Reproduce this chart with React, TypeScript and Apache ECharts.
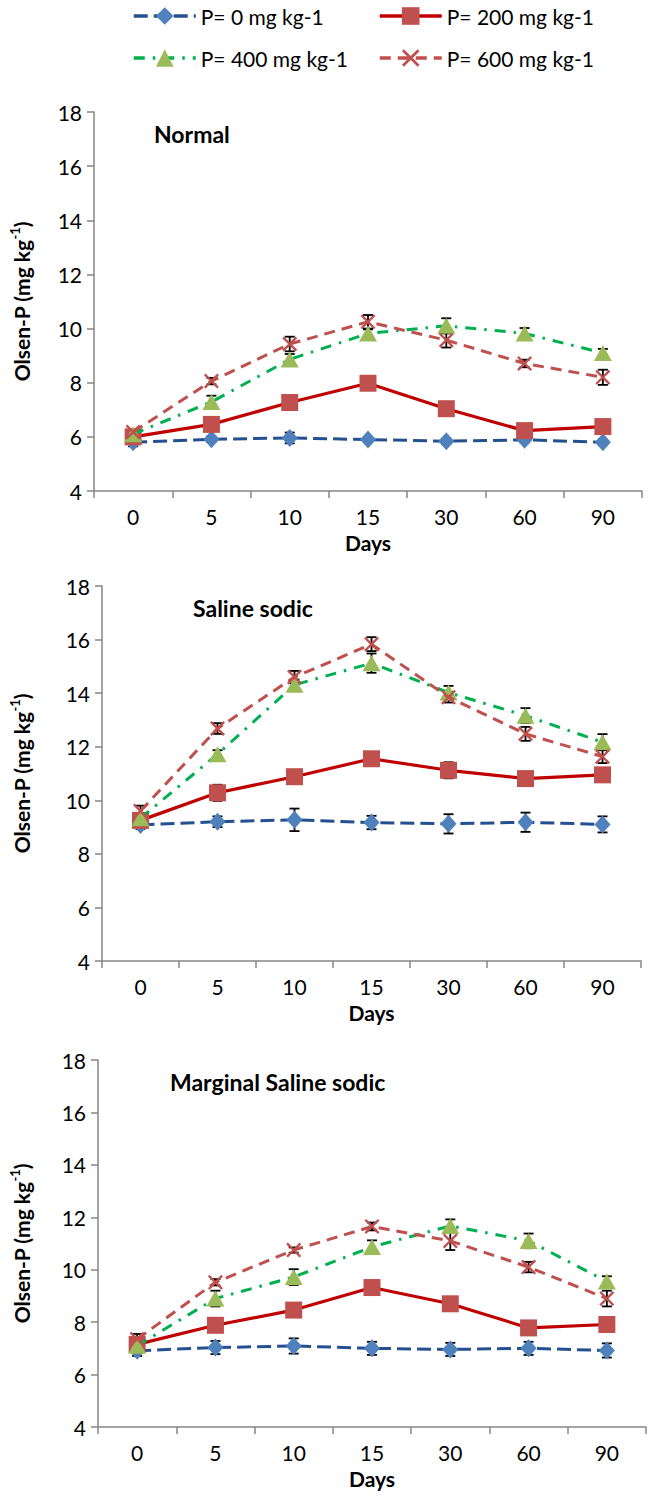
import React, { useEffect, useRef } from 'react';
import * as echarts from 'echarts';

const days = ['0', '5', '10', '15', '30', '60', '90'];
const seriesNames = ['P= 0 mg kg-1', 'P= 200 mg kg-1', 'P= 400 mg kg-1', 'P= 600 mg kg-1'];
const panelTitles = ['Normal', 'Saline sodic', 'Marginal Saline sodic'];

// Normal soil
const normalP0 = [5.8, 5.91, 5.96, 5.9, 5.84, 5.89, 5.8];
const normalP0Err = [0.15, 0.1, 0.2, 0.1, 0.1, 0.1, 0.1];
const normalP200 = [6.0, 6.46, 7.27, 7.98, 7.04, 6.23, 6.38];
const normalP200Err = [0.1, 0.1, 0.1, 0.1, 0.1, 0.1, 0.1];
const normalP400 = [6.1, 7.29, 8.86, 9.82, 10.1, 9.82, 9.1];
const normalP400Err = [0.1, 0.23, 0.2, 0.15, 0.28, 0.2, 0.15];
const normalP600 = [6.18, 8.06, 9.43, 10.25, 9.57, 8.71, 8.2];
const normalP600Err = [0.1, 0.12, 0.27, 0.25, 0.27, 0.14, 0.28];

// Saline sodic soil
const salineP0 = [9.08, 9.2, 9.27, 9.17, 9.12, 9.18, 9.1];
const salineP0Err = [0.15, 0.2, 0.42, 0.25, 0.36, 0.36, 0.3];
const salineP200 = [9.25, 10.28, 10.88, 11.55, 11.12, 10.81, 10.95];
const salineP200Err = [0.18, 0.3, 0.1, 0.1, 0.3, 0.15, 0.15];
const salineP400 = [9.33, 11.72, 14.31, 15.12, 14.02, 13.16, 12.17];
const salineP400Err = [0.2, 0.15, 0.2, 0.36, 0.25, 0.28, 0.3];
const salineP600 = [9.6, 12.68, 14.6, 15.83, 13.85, 12.48, 11.63];
const salineP600Err = [0.2, 0.2, 0.23, 0.26, 0.2, 0.26, 0.24];

// Marginal saline sodic soil
const marginalP0 = [6.91, 7.03, 7.09, 7.0, 6.96, 7.0, 6.92];
const marginalP0Err = [0.2, 0.25, 0.29, 0.25, 0.25, 0.25, 0.27];
const marginalP200 = [7.15, 7.88, 8.46, 9.32, 8.7, 7.78, 7.91];
const marginalP200Err = [0.15, 0.1, 0.1, 0.1, 0.1, 0.1, 0.1];
const marginalP400 = [7.1, 8.9, 9.72, 10.87, 11.67, 11.1, 9.55];
const marginalP400Err = [0.2, 0.3, 0.3, 0.25, 0.25, 0.28, 0.2];
const marginalP600 = [7.35, 9.52, 10.75, 11.65, 11.1, 10.1, 8.9];
const marginalP600Err = [0.2, 0.12, 0.1, 0.15, 0.35, 0.2, 0.3];

const panels = [
  { values: [normalP0, normalP200, normalP400, normalP600], errs: [normalP0Err, normalP200Err, normalP400Err, normalP600Err] },
  { values: [salineP0, salineP200, salineP400, salineP600], errs: [salineP0Err, salineP200Err, salineP400Err, salineP600Err] },
  { values: [marginalP0, marginalP200, marginalP400, marginalP600], errs: [marginalP0Err, marginalP200Err, marginalP400Err, marginalP600Err] },
];

const FONT = 'Lato';
const AXIS_GRAY = '#868686';
const X_PATH = 'path://M0,1.1L1.1,0L5,3.9L8.9,0L10,1.1L6.1,5L10,8.9L8.9,10L5,6.1L1.1,10L0,8.9L3.9,5Z';

const seriesStyles = [
  { line: { color: '#25508F', width: 3, type: [14, 6] }, symbol: 'diamond', size: [16, 18], fill: '#4F81BD' },
  { line: { color: '#C00000', width: 3.2, type: 'solid' }, symbol: 'rect', size: 17, fill: '#C0504D' },
  { line: { color: '#00B050', width: 3, type: [11, 8, 2.5, 8] }, symbol: 'triangle', size: [18, 16], fill: '#9BBB59' },
  { line: { color: '#C0504D', width: 3, type: [11, 7] }, symbol: X_PATH, size: 15, fill: '#C0504D' },
];

const grids = [
  { left: 92, top: 112, width: 550, height: 379 },
  { left: 101, top: 586, width: 540, height: 375 },
  { left: 96, top: 1060, width: 550, height: 367 },
];

const titlePos = [
  { x: 154, y: 134 },
  { x: 193, y: 608 },
  { x: 170, y: 1082 },
];

export default function App() {
  const ref = useRef<HTMLDivElement>(null);
  useEffect(() => {
    if (!ref.current) return;
    const chart = echarts.init(ref.current, undefined, { renderer: 'svg' });
    const series: any[] = [];
    const xAxis: any[] = [];
    const yAxis: any[] = [];
    panels.forEach((p, gi) => {
      xAxis.push({
        type: 'category',
        gridIndex: gi,
        data: days,
        boundaryGap: true,
        axisLine: { lineStyle: { color: AXIS_GRAY, width: 1.5 } },
        axisTick: { show: true, interval: 0, length: 7, lineStyle: { color: AXIS_GRAY, width: 1.5 } },
        axisLabel: { color: '#000', fontFamily: FONT, fontSize: 21, margin: 15, interval: 0 },
        name: 'Days',
        nameLocation: 'middle',
        nameGap: 41,
        nameTextStyle: { color: '#000', fontFamily: FONT, fontSize: 21, fontWeight: 'bold' },
      });
      yAxis.push({
        type: 'value',
        gridIndex: gi,
        min: 4,
        max: 18,
        interval: 2,
        splitLine: { show: false },
        axisLine: { show: true, lineStyle: { color: AXIS_GRAY, width: 1.5 } },
        axisTick: { show: true, length: 7, lineStyle: { color: AXIS_GRAY, width: 1.5 } },
        axisLabel: { color: '#000', fontFamily: FONT, fontSize: 21, margin: 12 },
        name: 'Olsen-P (mg kg{sup|-1})',
        nameLocation: 'middle',
        nameRotate: 90,
        nameGap: gi === 1 ? 68 : gi === 2 ? 64 : 60,
        nameTextStyle: {
          color: '#000', fontFamily: FONT, fontSize: 21, fontWeight: 'bold', lineHeight: 26,
          rich: { sup: { fontFamily: FONT, fontSize: 13, fontWeight: 'bold', color: '#000', verticalAlign: 'top', lineHeight: 26 } },
        },
      });
      p.values.forEach((vals, si) => {
        const errs = p.errs[si];
        series.push({
          type: 'custom',
          name: seriesNames[si] + ' error',
          xAxisIndex: gi,
          yAxisIndex: gi,
          z: 1,
          encode: { x: 0, y: 1 },
          data: vals.map((v, i) => [i, v, errs[i]]),
          renderItem: (params: any, api: any) => {
            const x = api.value(0);
            const y = api.value(1);
            const e = api.value(2);
            const top = api.coord([x, y + e]);
            const bot = api.coord([x, y - e]);
            const hw = 5;
            const style = { stroke: '#000', lineWidth: 1.8 };
            return {
              type: 'group',
              children: [
                { type: 'line', shape: { x1: top[0], y1: top[1], x2: bot[0], y2: bot[1] }, style },
                { type: 'line', shape: { x1: top[0] - hw, y1: top[1], x2: top[0] + hw, y2: top[1] }, style },
                { type: 'line', shape: { x1: bot[0] - hw, y1: bot[1], x2: bot[0] + hw, y2: bot[1] }, style },
              ],
            };
          },
        });
      });
      p.values.forEach((vals, si) => {
        const st = seriesStyles[si];
        series.push({
          type: 'line',
          name: seriesNames[si],
          xAxisIndex: gi,
          yAxisIndex: gi,
          data: vals,
          symbol: st.symbol,
          symbolSize: st.size,
          lineStyle: st.line,
          itemStyle: { color: st.fill, borderWidth: 0 },
          z: 2 + si,
        });
      });
    });

    const legendBase = {
      itemWidth: 62,
      itemHeight: 22,
      itemGap: 0,
      textStyle: { color: '#000', fontFamily: FONT, fontSize: 21, lineHeight: 26 },
      lineStyle: { width: 3.5 },
      selectedMode: false,
    };
    const legendPos = [
      { left: 127, top: -2 },
      { left: 373, top: -2 },
      { left: 127, top: 40 },
      { left: 373, top: 40 },
    ];

    chart.setOption({
      animation: false,
      backgroundColor: '#fff',
      grid: grids.map((g) => ({ ...g, containLabel: false })),
      xAxis,
      yAxis,
      legend: seriesNames.map((n, i) => ({ ...legendBase, ...legendPos[i], data: [n] })),
      graphic: panelTitles.map((t, i) => ({
        type: 'text',
        x: titlePos[i].x,
        y: titlePos[i].y,
        style: { text: t, fontFamily: FONT, fontSize: 23, fontWeight: 'bold', fill: '#000', textVerticalAlign: 'middle' },
      })),
      series,
    });
    return () => chart.dispose();
  }, []);
  return <div ref={ref} style={{ position: 'absolute', left: 0, top: 0, width: 650, height: 1497 }} />;
}
